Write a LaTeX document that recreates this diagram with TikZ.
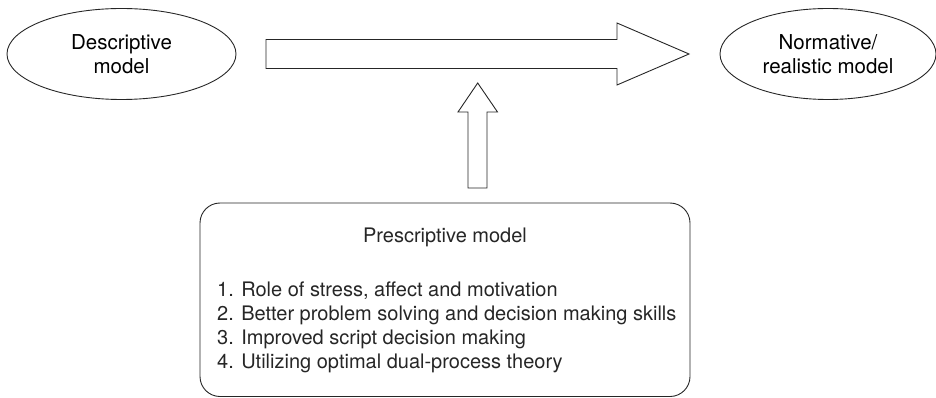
\documentclass[tikz,border=0pt]{standalone}
\usepackage{fontspec}
\setmainfont{TeX Gyre Heros}
\usetikzlibrary{shapes.geometric}
\begin{document}
\begin{tikzpicture}[x=1pt,y=-1pt,
  lw/.style={line width=0.9pt, draw=black!85},
  oval/.style={lw, ellipse, inner sep=0pt, align=center, font=\fontsize{20.5}{24}\selectfont},
  txt/.style={font=\fontsize{20}{24}\selectfont, inner sep=0pt, text=black!85}]
\useasboundingbox (0,0) rectangle (936,398);
% ellipses
\node[oval, minimum width=229pt, minimum height=91pt] (desc) at (121.5,54) {Descriptive\\model};
\node[oval, minimum width=216pt, minimum height=91pt] (norm) at (828,54) {Normative/\\realistic model};
% big horizontal block arrow
\draw[lw, line join=miter] (266,39.5) -- (617,39.5) -- (617,23) -- (689,54) -- (617,85) -- (617,68.5) -- (266,68.5) -- cycle;
% vertical block arrow
\draw[lw, line join=miter] (468,188) -- (468,112) -- (458,112) -- (477.7,83) -- (497.5,112) -- (487,112) -- (487,188) -- cycle;
% prescriptive box
\draw[lw, rounded corners=20pt] (200,203) rectangle (690,396.5);
\node[txt] (ptitle) at (445,237) {Prescriptive model};
\node[txt, anchor=base west] (l1) at (217,296) {1. Role of stress, affect and motivation};
\node[txt, anchor=base west] (l2) at (217,320) {2. Better problem solving and decision making skills};
\node[txt, anchor=base west] (l3) at (217,344) {3. Improved script decision making};
\node[txt, anchor=base west] (l4) at (217,368) {4. Utilizing optimal dual-process theory};
\end{tikzpicture}
\end{document}
